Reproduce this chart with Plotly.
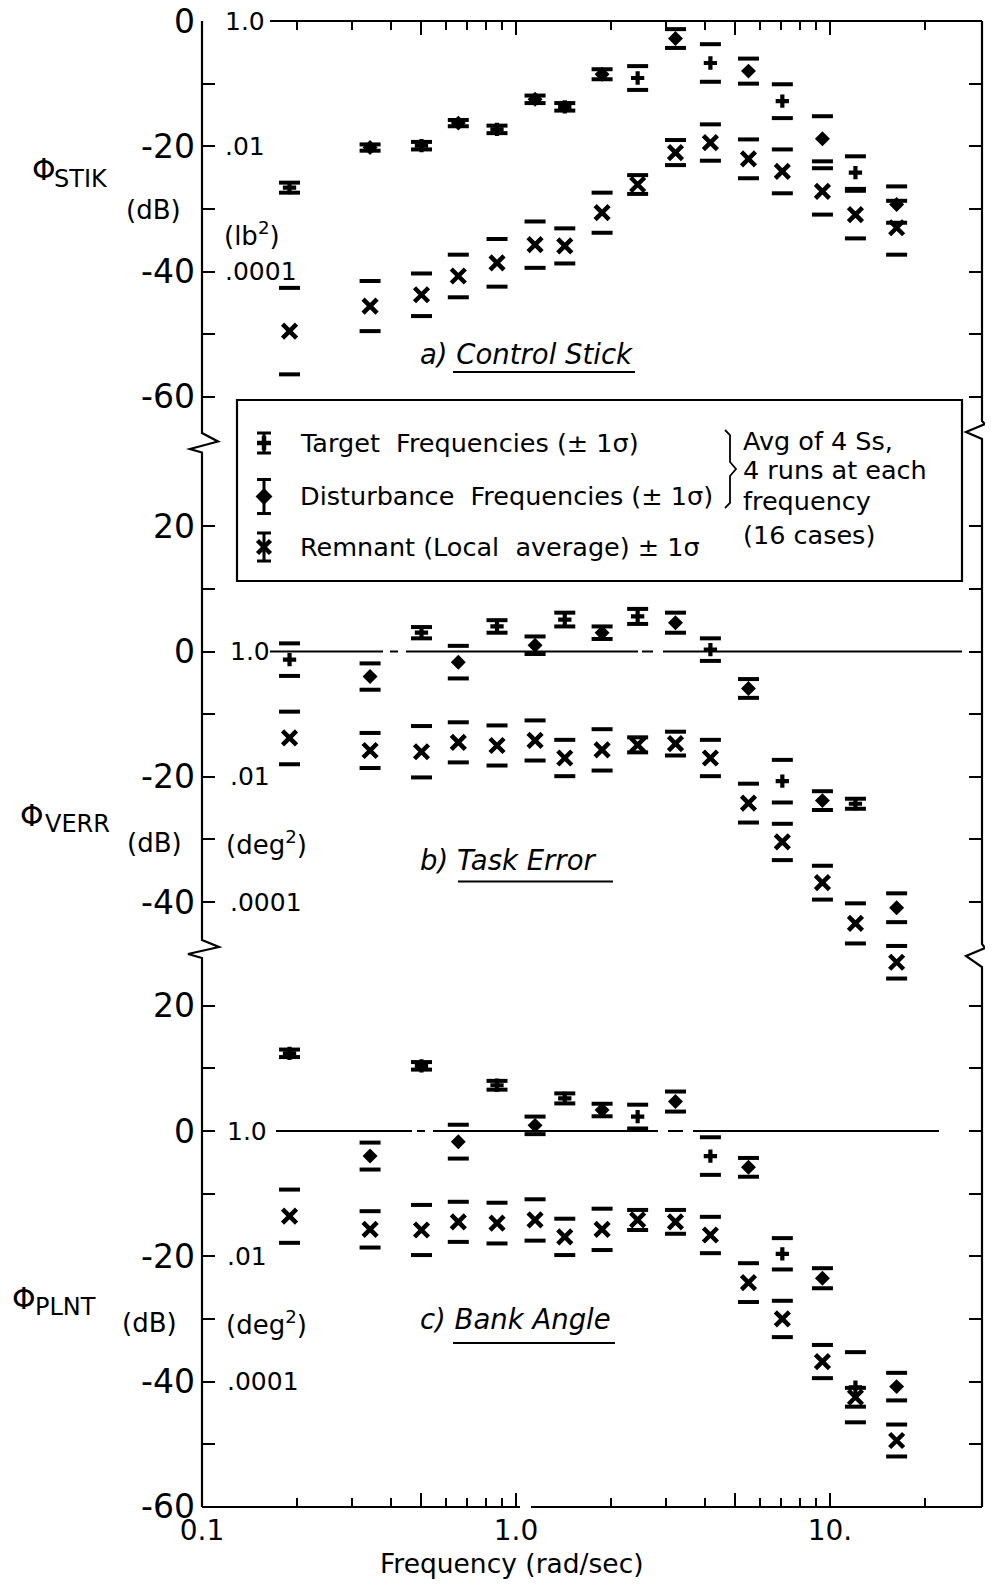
import plotly.graph_objects as go

# ---------------- data (dB) ----------------
freq_target = [0.19, 0.50, 0.87, 1.43, 2.44, 4.16, 7.05, 12.05]
freq_dist = [0.343, 0.655, 1.15, 1.88, 3.22, 5.50, 9.46, 16.3]
freq_remnant = [0.19, 0.343, 0.50, 0.655, 0.87, 1.15, 1.43, 1.88,
                2.44, 3.22, 4.16, 5.50, 7.05, 9.46, 12.05, 16.3]

# a) Control stick
stik_target = [-26.6, -19.9, -17.3, -13.7, -9.1, -6.7, -12.8, -24.2]
stik_target_sd = [0.8, 0.6, 0.6, 0.6, 1.9, 3.0, 2.7, 2.6]
stik_dist = [-20.2, -16.3, -12.5, -8.5, -2.8, -8.0, -18.8, -29.3]
stik_dist_sd = [0.5, 0.5, 0.6, 0.8, 1.5, 2.0, 3.6, 2.9]
stik_rem = [-49.5, -45.5, -43.7, -40.7, -38.6, -35.7, -35.9, -30.6,
            -26.1, -21.0, -19.4, -22.0, -24.0, -27.2, -30.9, -33.0]
stik_rem_sd = [6.9, 4.0, 3.4, 3.4, 3.8, 3.7, 2.8, 3.2,
               1.5, 2.0, 2.9, 3.1, 3.5, 3.7, 3.8, 4.3]

# b) Task error
verr_target = [-1.3, 3.0, 4.0, 5.1, 5.6, 0.3, -20.7, -24.3]
verr_target_sd = [2.6, 0.9, 1.0, 1.1, 1.2, 1.8, 3.4, 0.8]
verr_dist = [-4.0, -1.7, 1.0, 3.0, 4.6, -5.9, -23.8, -40.9]
verr_dist_sd = [2.1, 2.6, 1.4, 1.0, 1.6, 1.5, 1.5, 2.3]
verr_rem = [-13.8, -15.8, -16.0, -14.5, -15.0, -14.2, -17.0, -15.7,
            -14.9, -14.7, -17.0, -24.2, -30.4, -36.9, -43.4, -49.6]
verr_rem_sd = [4.2, 2.8, 4.1, 3.2, 3.2, 3.2, 2.9, 3.3,
               1.2, 1.9, 2.9, 3.1, 2.9, 2.7, 3.2, 2.6]

# c) Bank angle
plnt_target = [12.4, 10.4, 7.3, 5.2, 2.3, -4.0, -19.6, -40.9]
plnt_target_sd = [0.6, 0.6, 0.7, 0.8, 1.9, 3.0, 2.5, 5.6]
plnt_dist = [-4.0, -1.7, 0.9, 3.35, 4.7, -5.8, -23.5, -40.8]
plnt_dist_sd = [2.15, 2.7, 1.4, 1.0, 1.6, 1.5, 1.6, 2.2]
plnt_rem = [-13.6, -15.7, -15.8, -14.5, -14.7, -14.2, -16.9, -15.7,
            -14.2, -14.5, -16.6, -24.2, -30.0, -36.8, -42.5, -49.4]
plnt_rem_sd = [4.25, 2.9, 4.0, 3.2, 3.25, 3.3, 2.9, 3.3,
               1.6, 1.9, 2.9, 3.1, 2.9, 2.65, 1.5, 2.55]

x_tick_vals = [0.1, 0.5, 1.0, 5.0, 10.0]
x_tick_text = ["0.1", "", "1.0", "", "10."]
x_minor_vals = [0.2, 0.3, 0.4, 0.6, 0.7, 0.8, 0.9, 2, 3, 4, 6, 7, 8, 9, 20]

# ---------------- layout geometry (screen pixels) ----------------
SCREEN_W, SCREEN_H = 993, 1589
BODY = 8                       # default page margin around the plot div
FIG_W, FIG_H = SCREEN_W - 2 * BODY, SCREEN_H - 2 * BODY
PL, PR, PT, PB = 202, 982, 21, 1507      # plot area on screen
PW, PH = PR - PL, PB - PT
M_L, M_T = PL - BODY, PT - BODY
M_R, M_B = FIG_W - (PR - BODY), FIG_H - (PB - BODY)
DB_PER_PX = 20.0 / 125.3
SPAN = PH * DB_PER_PX
DECADE_PX = 314.0
FONT = "DejaVu Sans"
BLACK = "black"


def px(x):
    return (x - PL) / PW


def py(y):
    return (PB - y) / PH


def yrange(zero_px):
    top = (zero_px - PT) * DB_PER_PX + 1e-6
    return [top - SPAN, top]


fig = go.Figure()


def add_series(xs, ys, sds, yax, symbol, size, lw):
    cap_x = list(xs) + list(xs)
    cap_y = [v + s for v, s in zip(ys, sds)] + [v - s for v, s in zip(ys, sds)]
    fig.add_trace(go.Scatter(
        x=cap_x, y=cap_y, yaxis=yax, mode="markers", showlegend=False,
        hoverinfo="skip", cliponaxis=False,
        marker=dict(symbol="line-ew", size=15, color=BLACK,
                    line=dict(width=4, color=BLACK))))
    fig.add_trace(go.Scatter(
        x=xs, y=ys, yaxis=yax, mode="markers", showlegend=False,
        cliponaxis=False,
        marker=dict(symbol=symbol, size=size, color=BLACK,
                    line=dict(width=lw, color=BLACK))))


panels = [
    ("y3", stik_target, stik_target_sd, stik_dist, stik_dist_sd, stik_rem, stik_rem_sd),
    ("y2", verr_target, verr_target_sd, verr_dist, verr_dist_sd, verr_rem, verr_rem_sd),
    ("y", plnt_target, plnt_target_sd, plnt_dist, plnt_dist_sd, plnt_rem, plnt_rem_sd),
]
for yax, t, tsd, d, dsd, r, rsd in panels:
    add_series(freq_remnant, r, rsd, yax, "x-thin", 14, 4.5)
    add_series(freq_target, t, tsd, yax, "cross-thin", 9.5, 4.2)
    add_series(freq_dist, d, dsd, yax, "diamond", 11.5, 0)

# ---------------- legend key (own hidden axes, paper-like units) ----------------
key_x = px(264)
key_rows = [py(443), py(496.5), py(547)]
key_syms = [("cross-thin", 10, 4.5, 10), ("diamond", 13, 0, 17), ("x-thin", 13, 4.5, 14)]
for ky, (sym, sz, lw, half) in zip(key_rows, key_syms):
    fig.add_trace(go.Scatter(
        x=[key_x], y=[ky], xaxis="x2", yaxis="y4", mode="markers",
        showlegend=False, hoverinfo="skip", cliponaxis=False,
        marker=dict(symbol=sym, size=sz, color=BLACK, line=dict(width=lw, color=BLACK)),
        error_y=dict(type="constant", value=half / PH, color=BLACK,
                     thickness=3, width=7)))

# ---------------- axes ----------------
def yaxis_def(zero_px, vals, text, overlay):
    d = dict(range=yrange(zero_px), domain=[0, 1], anchor="x", automargin=False,
             tickmode="array", tickvals=vals, ticktext=text,
             ticks="inside", ticklen=13, tickwidth=2, tickcolor=BLACK,
             mirror="ticks", showline=False, showgrid=False, zeroline=False,
             ticklabelstandoff=6, ticklabeloverflow="allow",
             tickfont=dict(family=FONT, size=33, color=BLACK))
    if overlay:
        d["overlaying"] = "y"
    return d


fig.update_layout(
    width=FIG_W, height=FIG_H,
    margin=dict(l=M_L, r=M_R, t=M_T, b=M_B, pad=0, autoexpand=False),
    paper_bgcolor="white", plot_bgcolor="white",
    showlegend=False,
    xaxis=dict(type="log", range=[-1, -1 + PW / DECADE_PX], anchor="y",
               automargin=False,
               tickmode="array", tickvals=x_tick_vals, ticktext=x_tick_text,
               ticks="inside", ticklen=14, tickwidth=2, tickcolor=BLACK,
               mirror="ticks", showline=False,
               showgrid=False, zeroline=False, ticklabelstandoff=4,
               ticklabeloverflow="allow",
               tickfont=dict(family=FONT, size=28, color=BLACK),
               minor=dict(tickmode="array", tickvals=x_minor_vals, ticks="inside",
                          ticklen=9, tickwidth=2, tickcolor=BLACK, showgrid=False)),
    yaxis=yaxis_def(1131, [20, 10, 0, -10, -20, -30, -40, -50, -60],
                    ["20", "", "0", "", "-20", "", "-40", "", "-60"], False),
    yaxis2=yaxis_def(651.5, [20, 10, 0, -10, -20, -30, -40],
                     ["20", "", "0", "", "-20", "", "-40"], True),
    yaxis3=yaxis_def(21, [0, -10, -20, -30, -40, -50, -60],
                     ["0", "", "-20", "", "-40", "", "-60"], True),
    xaxis2=dict(range=[0, 1], domain=[0, 1], overlaying="x", anchor="y4",
                visible=False, automargin=False),
    yaxis4=dict(range=[0, 1], domain=[0, 1], overlaying="y", anchor="x2",
                visible=False, automargin=False),
)

# ---------------- frame lines with break marks ----------------
def path(points):
    return "M " + " L ".join(f"{px(x):.5f},{py(y):.5f}" for x, y in points)


left_pts = [(PL, PT), (PL, 433), (218, 441.5), (190, 449), (PL, 452.5),
            (PL, 940), (219, 947), (188, 954), (PL, 958), (PL, PB)]
right_pts = [(PR, PT), (PR, 421), (PR + 3, 424), (PR - 16, 432),
             (PR, 439), (PR, 944), (PR + 3, 948), (PR - 16, 956),
             (PR, 967), (PR, PB)]
LW = 2.2
shapes = [
    dict(type="path", path=path(left_pts), xref="paper", yref="paper",
         line=dict(color=BLACK, width=LW)),
    dict(type="path", path=path(right_pts), xref="paper", yref="paper",
         line=dict(color=BLACK, width=LW)),
    # top border (starts after the "1.0" label) and bottom border
    dict(type="line", xref="paper", yref="paper", x0=px(270), x1=px(PR),
         y0=py(PT), y1=py(PT), line=dict(color=BLACK, width=LW)),
    dict(type="line", xref="paper", yref="paper", x0=px(PL), x1=px(520),
         y0=py(PB), y1=py(PB), line=dict(color=BLACK, width=LW)),
    dict(type="line", xref="paper", yref="paper", x0=px(531), x1=px(PR),
         y0=py(PB), y1=py(PB), line=dict(color=BLACK, width=LW)),
    # legend box
    dict(type="rect", xref="paper", yref="paper", x0=px(237), x1=px(962),
         y0=py(581), y1=py(400), line=dict(color=BLACK, width=LW)),
    # brace
    dict(type="path", xref="paper", yref="paper",
         path=path([(725, 430), (730, 435), (730, 462), (736, 469),
                    (730, 476), (730, 503), (725, 508)]),
         line=dict(color=BLACK, width=1.8)),
    # title underlines
    dict(type="line", xref="paper", yref="paper", x0=px(453), x1=px(635),
         y0=py(372), y1=py(372), line=dict(color=BLACK, width=LW)),
    dict(type="line", xref="paper", yref="paper", x0=px(458), x1=px(613),
         y0=py(881.5), y1=py(881.5), line=dict(color=BLACK, width=LW)),
    dict(type="line", xref="paper", yref="paper", x0=px(453), x1=px(615),
         y0=py(1343), y1=py(1343), line=dict(color=BLACK, width=LW)),
]

# zero-dB reference lines (broken like the original)
for yax, segs in [("y2", [(270, 383), (390, 398), (406, 638), (642, 653), (663, 962)]),
                  ("y", [(276, 412), (417, 425), (433, 658), (668, 683), (693, 939)])]:
    for a, b in segs:
        shapes.append(dict(type="line", xref="paper", yref=yax, x0=px(a), x1=px(b),
                           y0=0, y1=0, line=dict(color=BLACK, width=2)))
fig.update_layout(shapes=shapes)

# ---------------- text ----------------
ann = []


def text(s, x, y, size, xanchor="left", yref="paper", yv=None, font=FONT):
    ann.append(dict(text=s, x=px(x), y=py(y) if yv is None else yv,
                    xref="paper", yref=yref, xanchor=xanchor, yanchor="middle",
                    showarrow=False, font=dict(family=font, size=size, color=BLACK)))


# ordinate names (symbol + subscript)
for phi_x, phi_y, sub, sub_x, sub_y in [(30, 170, "STIK", 52, 179),
                                        (18, 815, "VERR", 43, 824),
                                        (10, 1298, "PLNT", 33, 1307)]:
    text("Φ", phi_x, phi_y, 30)
    text(sub, sub_x, sub_y, 24)
text("(dB)", 124, 210, 26)
text("(lb<sup>2</sup>)", 222, 234, 26)
text("(dB)", 125, 843, 26)
text("(deg<sup>2</sup>)", 224, 843, 26)
text("(dB)", 120, 1323, 26)
text("(deg<sup>2</sup>)", 224, 1323, 26)

# linear-scale equivalents
for yax, xs in [("y3", 223), ("y2", 228), ("y", 225)]:
    for val, lab in [(0, "1.0"), (-20, ".01"), (-40, ".0001")]:
        text(lab, xs, 0, 25, yref=yax, yv=val)

# panel titles
text("<i>a) Control Stick</i>", 418, 354, 27.5)
text("<i>b) Task Error</i>", 418, 860, 27.5)
text("<i>c) Bank Angle</i>", 418, 1319, 27.5)

# legend text
LEG = 25.5
text("Target  Frequencies (± 1σ)", 298, 443, LEG)
text("Disturbance  Frequencies (± 1σ)", 298, 496, LEG)
text("Remnant (Local  average) ± 1σ", 298, 547, LEG)
text("Avg of 4 Ss,", 741, 441, LEG)
text("4 runs at each", 741, 470, LEG)
text("frequency", 741, 501, LEG)
text("(16 cases)", 741, 535, LEG)

# abscissa title
text("Frequency (rad/sec)", 512, 1564, 26.5, xanchor="center")

fig.update_layout(annotations=ann)
fig.write_html("out.html")
